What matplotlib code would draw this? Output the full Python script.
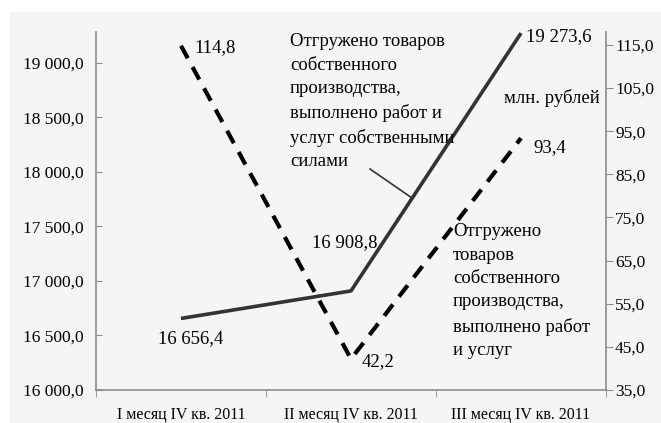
import matplotlib
matplotlib.use("Agg")
import matplotlib.pyplot as plt
from matplotlib.patches import Rectangle

plt.rcParams['font.family'] = ['Liberation Serif', 'DejaVu Serif']

categories = ["I месяц IV кв. 2011", "II месяц IV кв. 2011", "III месяц IV кв. 2011"]
own_forces = [16656.4, 16908.8, 19273.6]
shipped = [114.8, 42.2, 93.4]
own_labels = ["16 656,4", "16 908,8", "19 273,6"]
shipped_labels = ["114,8", "42,2", "93,4"]
left_ticks = [16000, 16500, 17000, 17500, 18000, 18500, 19000]
left_ticklabels = ["16 000,0", "16 500,0", "17 000,0", "17 500,0", "18 000,0", "18 500,0", "19 000,0"]
right_ticks = [35, 45, 55, 65, 75, 85, 95, 105, 115]
right_ticklabels = ["35,0", "45,0", "55,0", "65,0", "75,0", "85,0", "95,0", "105,0", "115,0"]

W, H = 661, 423
fig = plt.figure(figsize=(W / 100, H / 100), dpi=100)
fig.patch.set_facecolor("white")
fig.add_artist(Rectangle((10 / W, 0), 1 - 10 / W, 1 - 12 / H, transform=fig.transFigure,
                         facecolor="#f5f5f5", edgecolor="none", zorder=0))

ax = fig.add_axes([96 / W, 33 / H, 510 / W, 358 / H])
ax.set_facecolor("none")
ax2 = ax.twinx()
ax2.set_facecolor("none")

fs_tick = 12.5
fs_txt = 13.5
gray = "#8c8c8c"
PX = 0.72  # points per pixel

x = list(range(len(categories)))
ax.plot(x, own_forces, color="#333333", lw=2.6, solid_capstyle="butt", zorder=3)
ax2.plot(x, shipped, color="black", lw=3, dashes=(3.4, 2.4), zorder=3)

ax.set_xlim(-0.5, 2.5)
ax.set_ylim(16000, 19284)
ax2.set_ylim(35, 118)

ax.set_yticks(left_ticks)
ax.set_yticklabels(left_ticklabels, fontsize=fs_tick)
ax2.set_yticks(right_ticks)
ax2.set_yticklabels(right_ticklabels, fontsize=fs_tick)
ax.set_xticks(x)
ax.set_xticklabels(categories, fontsize=11.5)
ax.set_xticks([-0.5, 0.5, 1.5, 2.5], minor=True)
ax.tick_params(axis="x", which="major", length=0, pad=12)
ax.tick_params(axis="x", which="minor", length=5, color=gray, direction="out")
ax.tick_params(axis="y", length=4, color=gray, direction="in", pad=9)
ax2.tick_params(axis="y", length=5, color=gray, direction="out", pad=1.5)

for a in (ax, ax2):
    a.spines["top"].set_visible(False)
    for s in ("left", "right", "bottom"):
        a.spines[s].set_color(gray)
        a.spines[s].set_linewidth(1.2)
ax.spines["right"].set_visible(False)
ax2.spines["left"].set_visible(False)
ax2.spines["bottom"].set_visible(False)

# value labels (offsets in pixels converted to points)
ax.annotate(own_labels[0], (x[0], own_forces[0]), xytext=(10 * PX, -20 * PX), textcoords="offset points",
            ha="center", va="center", fontsize=fs_txt)
ax.annotate(own_labels[1], (x[1], own_forces[1]), xytext=(-6 * PX, 48 * PX), textcoords="offset points",
            ha="center", va="center", fontsize=fs_txt)
ax.annotate(own_labels[2], (x[2], own_forces[2]), xytext=(5 * PX, -3 * PX), textcoords="offset points",
            ha="left", va="center", fontsize=fs_txt)
ax2.annotate(shipped_labels[0], (x[0], shipped[0]), xytext=(13 * PX, -2 * PX), textcoords="offset points",
             ha="left", va="center", fontsize=fs_txt)
ax2.annotate(shipped_labels[1], (x[1], shipped[1]), xytext=(11 * PX, -3 * PX), textcoords="offset points",
             ha="left", va="center", fontsize=fs_txt)
ax2.annotate(shipped_labels[2], (x[2], shipped[2]), xytext=(12 * PX, -9 * PX), textcoords="offset points",
             ha="left", va="center", fontsize=fs_txt)

ax2.text(600 / W, 1 - 98 / H, "млн. рублей", transform=fig.transFigure, ha="right", va="center",
         fontsize=fs_txt)

# series annotations
fig.text(290 / W, 1 - 33 / H,
         "Отгружено товаров\nсобственного\nпроизводства,\nвыполнено работ и\nуслуг собственными\nсилами",
         ha="left", va="top", fontsize=fs_txt, linespacing=1.5)
fig.add_artist(plt.Line2D([370 / W, 412 / W], [1 - 169 / H, 1 - 198 / H], color="#333333", lw=1.2))

fig.text(453 / W, 1 - 223 / H,
         "Отгружено\nтоваров\nсобственного\nпроизводства,\nвыполнено работ\nи услуг",
         ha="left", va="top", fontsize=fs_txt, linespacing=1.5)

fig.savefig("out.png", dpi=100, facecolor=fig.get_facecolor())
